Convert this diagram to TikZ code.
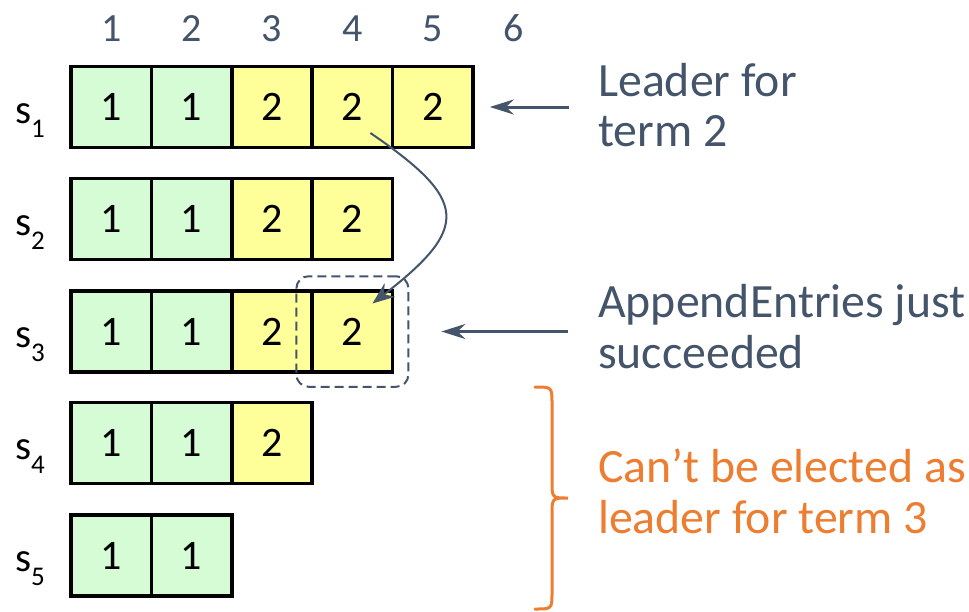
\documentclass[tikz,border=0pt]{standalone}
\usepackage{fontspec}
\setmainfont{Carlito}
\usetikzlibrary{arrows.meta,fit,calc}
\definecolor{slate}{HTML}{44546A}
\definecolor{orng}{HTML}{ED7D31}
\definecolor{cgreen}{HTML}{D5FCD5}
\definecolor{cyellow}{HTML}{FFFF99}
\begin{document}
\begin{tikzpicture}[x=1pt,y=-1pt,
 cell/.style={draw=black, line width=3.5pt, minimum width=80.4pt, minimum height=81pt, inner sep=0pt, font=\fontsize{42}{42}\selectfont},
 gc/.style={cell, fill=cgreen},
 yc/.style={cell, fill=cyellow},
 hdr/.style={text=slate, font=\fontsize{40}{40}\selectfont, inner sep=0pt},
 srv/.style={anchor=base west, inner sep=0pt, font=\fontsize{41}{41}\selectfont},
 lbl/.style={anchor=base west, inner sep=0pt, text=slate, font=\fontsize{47.8}{47.8}\selectfont},
 arr/.style={draw=slate, line width=3pt, -{Stealth[length=24pt,width=15pt]}},
 curv/.style={draw=slate, line width=2pt, -{Stealth[length=22pt,width=17pt]}}
]
\useasboundingbox (0,0) rectangle (969,611);

% column headers
\foreach \c/\x in {1/111.2,2/191.6,3/272.0,4/352.4,5/432.8,6/513.2}
  \node[hdr] (h\c) at (\x,28.5) {\c};

% row labels
\newcommand{\srvlabel}[1]{s\raisebox{-14pt}{\fontsize{27}{27}\selectfont #1}}
\node[srv] (s1) at (15,123) {\srvlabel{1}};
\node[srv] (s2) at (15,235) {\srvlabel{2}};
\node[srv] (s3) at (15,347.5) {\srvlabel{3}};
\node[srv] (s4) at (15,459) {\srvlabel{4}};
\node[srv] (s5) at (15,571.5) {\srvlabel{5}};

% row 1
\node[gc] (r1c1) at (111.2,107) {1};
\node[gc] (r1c2) at (191.6,107) {1};
\node[yc] (r1c3) at (272.0,107) {2};
\node[yc] (r1c4) at (352.4,107) {2};
\node[yc] (r1c5) at (432.8,107) {2};
% row 2
\node[gc] (r2c1) at (111.2,219) {1};
\node[gc] (r2c2) at (191.6,219) {1};
\node[yc] (r2c3) at (272.0,219) {2};
\node[yc] (r2c4) at (352.4,219) {2};
% row 3
\node[gc] (r3c1) at (111.2,331.5) {1};
\node[gc] (r3c2) at (191.6,331.5) {1};
\node[yc] (r3c3) at (272.0,331.5) {2};
\node[yc] (r3c4) at (352.4,331.5) {2};
% row 4
\node[gc] (r4c1) at (111.2,443) {1};
\node[gc] (r4c2) at (191.6,443) {1};
\node[yc] (r4c3) at (272.0,443) {2};
% row 5
\node[gc] (r5c1) at (111.2,555.5) {1};
\node[gc] (r5c2) at (191.6,555.5) {1};

% highlight box
\node[draw=slate, dash pattern=on 9pt off 5pt, line width=2pt, rounded corners=12pt,
      inner xsep=14pt, inner ysep=13pt, fit=(r3c4)] (hl) {};

% labels
\node[lbl] (lead1) at (598,96) {Leader for};
\node[lbl] (lead2) at (598,146) {term 2};
\node[lbl] (ae1) at (598,317) {AppendEntries just};
\node[lbl] (ae2) at (598,368) {succeeded};
\node[lbl, text=orng] (ce1) at (598,482) {Can’t be elected as};
\node[lbl, text=orng] (ce2) at (598,533) {leader for term 3};

% arrows
\coordinate (p1) at (569,107);
\coordinate (p3) at (568,331.5);
\draw[arr, shorten >=15pt] (p1) -- (r1c5.east);
\draw[arr, shorten >=32pt] (p3) -- (hl.east);

\draw[curv] ($(r1c4.center)+(18,26)$) .. controls ($(r1c4.center)+(116,93)$) and ($(r3c4.center)+(118,-104)$) .. ($(r3c4.center)+(20,-28)$);

% brace
\draw[orng, line width=3pt, line cap=round]
  (535,387) .. controls (552,387) .. (552,404) -- (552,481)
  .. controls (552,498) .. (568,498)
  .. controls (552,498) .. (552,515) -- (552,592)
  .. controls (552,609) .. (535,609);
\end{tikzpicture}
\end{document}
